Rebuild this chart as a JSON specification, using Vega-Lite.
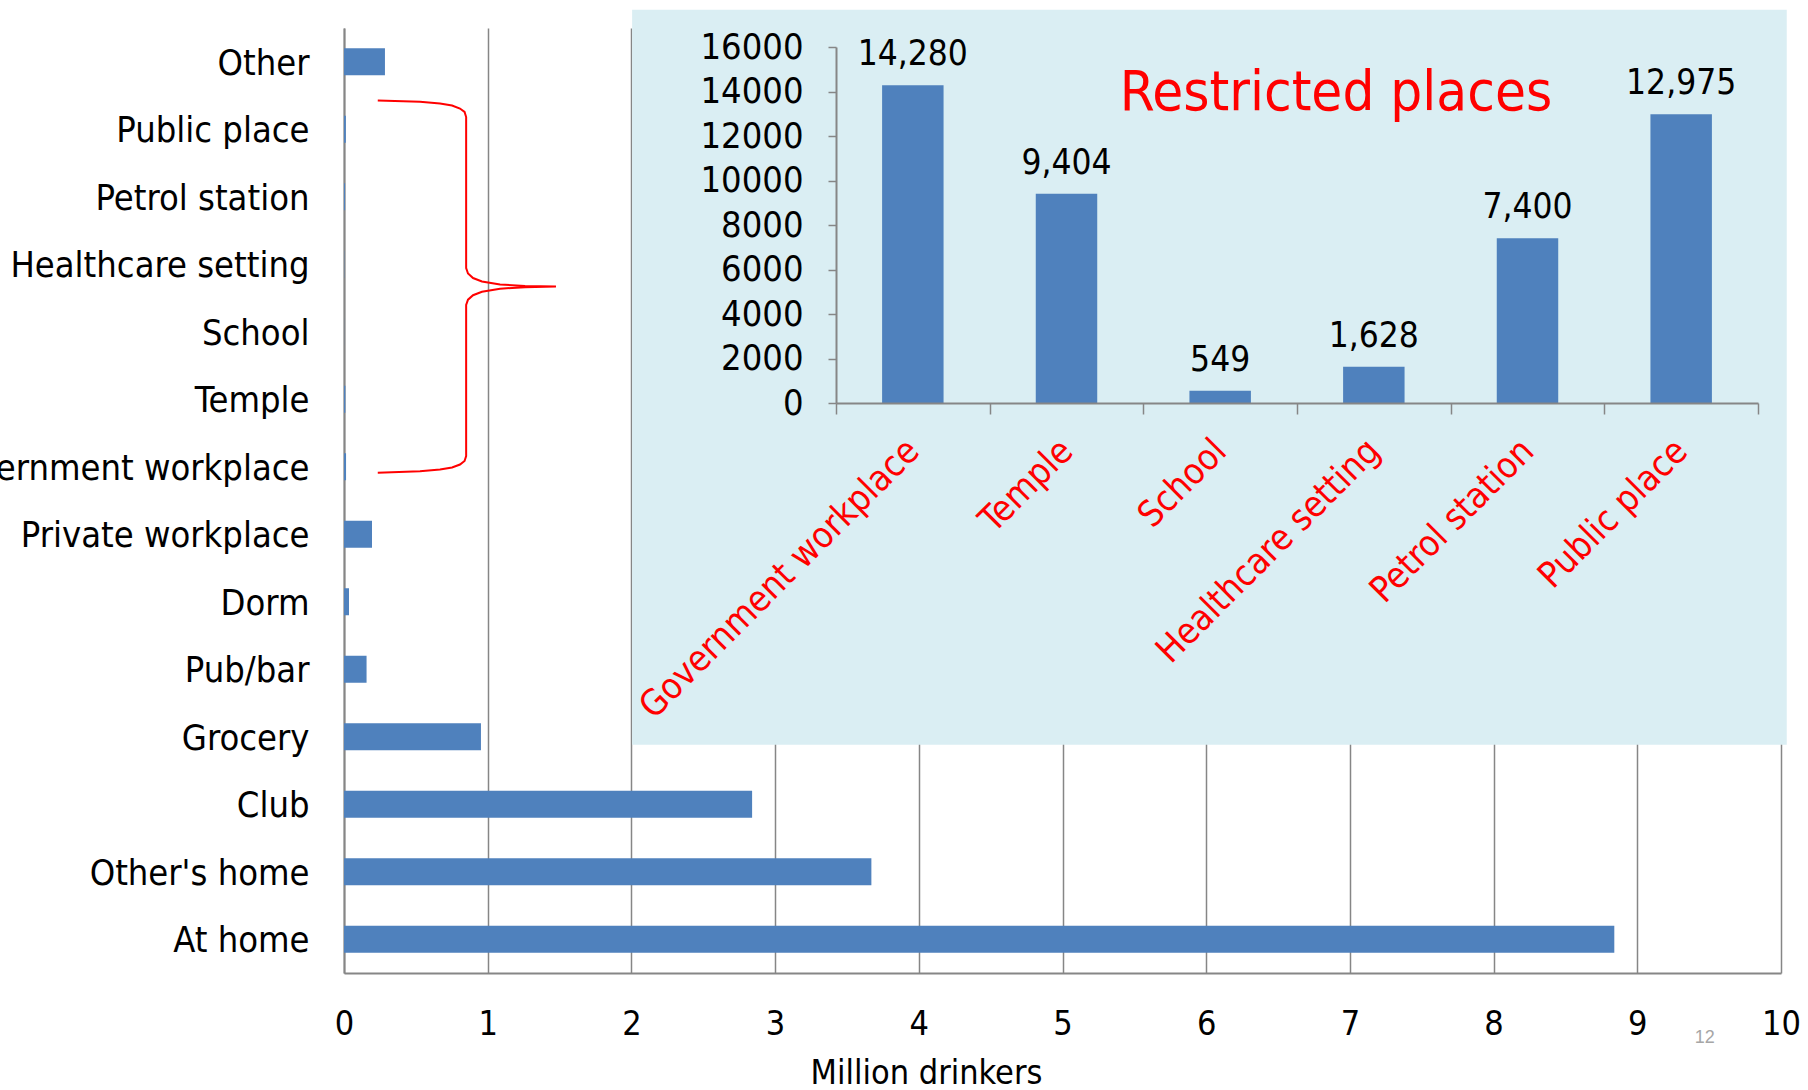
{
  "$schema": "https://vega.github.io/schema/vega-lite/v6.json",
  "width": 1437,
  "height": 945,
  "autosize": {"type": "none"},
  "padding": {"left": 344, "top": 28, "right": 27, "bottom": 117},
  "background": "white",
  "config": {
    "font": "DejaVu Sans Condensed",
    "view": {"stroke": null},
    "axis": {"labelFont": "DejaVu Sans Condensed", "titleFont": "DejaVu Sans Condensed", "labelColor": "black", "titleColor": "black", "titleFontWeight": "normal"}
  },
  "datasets": {
    "places": [
      {"place": "Other", "drinkers": 0.285},
      {"place": "Public place", "drinkers": 0.012975},
      {"place": "Petrol station", "drinkers": 0.0074},
      {"place": "Healthcare setting", "drinkers": 0.001628},
      {"place": "School", "drinkers": 0.000549},
      {"place": "Temple", "drinkers": 0.009404},
      {"place": "Government workplace", "drinkers": 0.01428},
      {"place": "Private workplace", "drinkers": 0.195},
      {"place": "Dorm", "drinkers": 0.035},
      {"place": "Pub/bar", "drinkers": 0.157},
      {"place": "Grocery", "drinkers": 0.953},
      {"place": "Club", "drinkers": 2.84},
      {"place": "Other's home", "drinkers": 3.67},
      {"place": "At home", "drinkers": 8.84}
    ],
    "restricted": [
      {"place": "Government workplace", "count": 14280},
      {"place": "Temple", "count": 9404},
      {"place": "School", "count": 549},
      {"place": "Healthcare setting", "count": 1628},
      {"place": "Petrol station", "count": 7400},
      {"place": "Public place", "count": 12975}
    ],
    "panel": [
      {"x0": 2.005, "x1": 10.04, "y0": -0.27, "y1": 10.62}
    ],
    "brace": [
      {"i": 1, "bx": 0.235, "by": 1.073},
      {"i": 2, "bx": 0.529, "by": 1.093},
      {"i": 3, "bx": 0.668, "by": 1.119},
      {"i": 4, "bx": 0.752, "by": 1.148},
      {"i": 5, "bx": 0.807, "by": 1.193},
      {"i": 6, "bx": 0.839, "by": 1.244},
      {"i": 7, "bx": 0.85, "by": 1.319},
      {"i": 8, "bx": 0.85, "by": 3.556},
      {"i": 9, "bx": 0.863, "by": 3.637},
      {"i": 10, "bx": 0.898, "by": 3.704},
      {"i": 11, "bx": 0.96, "by": 3.756},
      {"i": 12, "bx": 1.086, "by": 3.8},
      {"i": 13, "bx": 1.26, "by": 3.822},
      {"i": 14, "bx": 1.475, "by": 3.831},
      {"i": 15, "bx": 1.26, "by": 3.84},
      {"i": 16, "bx": 1.086, "by": 3.862},
      {"i": 17, "bx": 0.96, "by": 3.907},
      {"i": 18, "bx": 0.898, "by": 3.959},
      {"i": 19, "bx": 0.863, "by": 4.025},
      {"i": 20, "bx": 0.85, "by": 4.104},
      {"i": 21, "bx": 0.85, "by": 6.341},
      {"i": 22, "bx": 0.839, "by": 6.415},
      {"i": 23, "bx": 0.807, "by": 6.467},
      {"i": 24, "bx": 0.752, "by": 6.511},
      {"i": 25, "bx": 0.668, "by": 6.541},
      {"i": 26, "bx": 0.529, "by": 6.567},
      {"i": 27, "bx": 0.235, "by": 6.588}
    ],
    "notes": [
      {"label": "Restricted places", "nx": 6.903, "ny": 1.215, "kind": "heading"},
      {"label": "12", "nx": 9.47, "ny": 14.96, "kind": "page"}
    ]
  },
  "layer": [
    {
      "data": {"name": "places"},
      "mark": {"type": "bar", "color": "#4f81bd"},
      "encoding": {
        "y": {
          "field": "place",
          "type": "nominal",
          "sort": ["Other", "Public place", "Petrol station", "Healthcare setting", "School", "Temple", "Government workplace", "Private workplace", "Dorm", "Pub/bar", "Grocery", "Club", "Other's home", "At home"],
          "scale": {"paddingInner": 0.6, "paddingOuter": 0.3},
          "axis": {
            "title": null,
            "orient": "left",
            "ticks": false,
            "domainColor": "#868686",
            "domainWidth": 2,
            "labelFontSize": 36,
            "labelPadding": 35,
            "labelOffset": 2,
            "labelLimit": 0
          }
        },
        "x": {
          "field": "drinkers",
          "type": "quantitative",
          "scale": {"domain": [0, 10], "nice": false},
          "axis": {
            "title": "Million drinkers",
            "orient": "bottom",
            "values": [0, 1, 2, 3, 4, 5, 6, 7, 8, 9, 10],
            "ticks": false,
            "grid": true,
            "gridColor": "#868686",
            "gridWidth": 1.5,
            "gridOpacity": 1,
            "domainColor": "#868686",
            "domainWidth": 2,
            "labelFontSize": 34,
            "labelPadding": 34,
            "labelFlush": false,
            "titleFontSize": 34,
            "titleX": 582,
            "titleY": 110,
            "titleAnchor": null,
            "titleBaseline": "alphabetic"
          }
        }
      }
    },
    {
      "data": {"name": "panel"},
      "mark": {"type": "rect", "color": "#daeef3"},
      "encoding": {
        "x": {"field": "x0", "type": "quantitative", "scale": {"domain": [0, 10], "nice": false}, "axis": null},
        "x2": {"field": "x1"},
        "y": {"field": "y0", "type": "quantitative", "scale": {"domain": [0, 14], "nice": false, "zero": false, "reverse": true}, "axis": null},
        "y2": {"field": "y1"}
      }
    },
    {
      "data": {"name": "restricted"},
      "encoding": {
        "x": {
          "field": "place",
          "type": "nominal",
          "sort": null,
          "scale": {"range": [492, 1414], "paddingInner": 0, "paddingOuter": 0},
          "axis": {
            "title": null,
            "orient": "bottom",
            "offset": -570,
            "zindex": 1,
            "tickBand": "extent",
            "tickSize": 11,
            "tickColor": "#868686",
            "tickWidth": 1.5,
            "domainColor": "#868686",
            "domainWidth": 2,
            "labelAngle": -45,
            "labelAlign": "right",
            "labelBaseline": "middle",
            "labelColor": "#ff0000",
            "labelFontSize": 36,
            "labelPadding": 31,
            "labelLimit": 0
          }
        },
        "y": {
          "field": "count",
          "type": "quantitative",
          "scale": {"domain": [0, 16000], "range": [375, 19], "nice": false},
          "axis": {
            "title": null,
            "orient": "left",
            "offset": -492,
            "zindex": 1,
            "values": [0, 2000, 4000, 6000, 8000, 10000, 12000, 14000, 16000],
            "format": "d",
            "grid": false,
            "tickSize": 8,
            "tickColor": "#868686",
            "tickWidth": 1.5,
            "domainColor": "#868686",
            "domainWidth": 2,
            "labelFontSize": 36,
            "labelPadding": 25,
            "labelBaseline": "middle"
          }
        }
      },
      "layer": [
        {"mark": {"type": "bar", "color": "#4f81bd", "width": {"band": 0.4}}},
        {
          "mark": {"type": "text", "baseline": "alphabetic", "dy": -20, "fontSize": 35, "color": "black"},
          "encoding": {"text": {"field": "count", "type": "quantitative", "format": ","}}
        }
      ]
    },
    {
      "encoding": {
        "x": {"type": "quantitative", "scale": {"domain": [0, 10], "nice": false}, "axis": null},
        "y": {"type": "quantitative", "scale": {"domain": [0, 14], "nice": false, "zero": false, "reverse": true}, "axis": null}
      },
      "layer": [
        {
          "data": {"name": "brace"},
          "mark": {"type": "line", "color": "#ff0000", "strokeWidth": 2, "interpolate": "linear"},
          "encoding": {
            "x": {"field": "bx", "type": "quantitative"},
            "y": {"field": "by", "type": "quantitative"},
            "order": {"field": "i", "type": "quantitative"}
          }
        },
        {
          "data": {"name": "notes"},
          "transform": [{"filter": "datum.kind === 'heading'"}],
          "mark": {"type": "text", "fontSize": 56, "color": "#ff0000", "baseline": "alphabetic", "align": "center"},
          "encoding": {
            "x": {"field": "nx", "type": "quantitative"},
            "y": {"field": "ny", "type": "quantitative"},
            "text": {"field": "label", "type": "nominal"}
          }
        },
        {
          "data": {"name": "notes"},
          "transform": [{"filter": "datum.kind === 'page'"}],
          "mark": {"type": "text", "fontSize": 18, "color": "#a6a6a6", "font": "Liberation Sans", "baseline": "middle", "align": "center"},
          "encoding": {
            "x": {"field": "nx", "type": "quantitative"},
            "y": {"field": "ny", "type": "quantitative"},
            "text": {"field": "label", "type": "nominal"}
          }
        }
      ]
    }
  ],
  "resolve": {
    "scale": {"x": "independent", "y": "independent"},
    "axis": {"x": "independent", "y": "independent"}
  }
}
